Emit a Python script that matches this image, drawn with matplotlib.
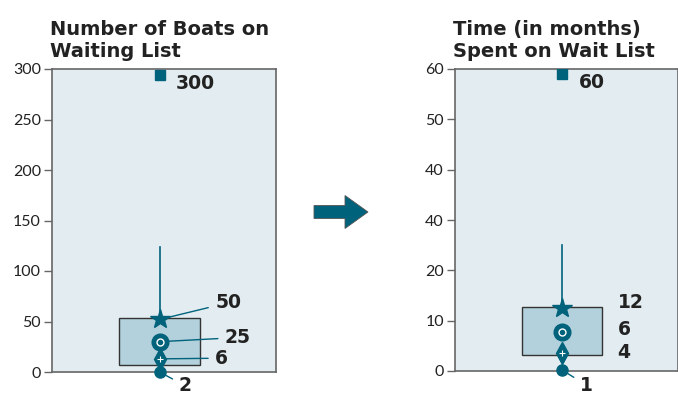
import matplotlib.pyplot as plt
from matplotlib.patches import FancyArrow, Rectangle

plt.rcParams['font.family'] = ['Lato', 'DejaVu Sans']
bold_font = ['DejaVu Sans']

# Left panel: number of boats on waiting list
boats_ticks = [0, 50, 100, 150, 200, 250, 300]
boats_q1, boats_q3 = 7, 53
boats_whisker_top = 124
boats_max, boats_p75, boats_mid, boats_p25, boats_min = 294, 52, 30, 13, 0
boats_labels = ['300', '50', '25', '6', '2']

# Right panel: months spent on wait list
months_ticks = [0, 10, 20, 30, 40, 50, 60]
months_tick_labels = ['0', '10', '20', '40', '40', '50', '60']
months_q1, months_q3 = 3.2, 12.7
months_whisker_top = 25
months_max, months_p75, months_mid, months_p25, months_min = 59, 12.5, 7.8, 3.6, 0.2
months_labels = ['60', '12', '6', '4', '1']

teal = '#00627b'
bg = '#e3edf1'
boxfill = '#b3d1dc'
spine_col = '#666666'

fig = plt.figure(figsize=(6.78, 3.96), dpi=100)


def panel(rect, title, ticks, ylim, q1, q3, wtop, vals, labels, leaders, offsets,
          tick_labels=None):
    ax = fig.add_axes(rect)
    ax.set_facecolor(bg)
    ax.set_xlim(0, 1)
    ax.set_ylim(*ylim)
    ax.set_xticks([])
    ax.set_yticks(ticks)
    ax.set_yticklabels(tick_labels if tick_labels is not None else [str(t) for t in ticks],
                       family='Lato')
    ax.tick_params(axis='y', length=6, width=1, color=spine_col, pad=2,
                   labelsize=11.5, labelcolor='#222222')
    for s in ax.spines.values():
        s.set_color(spine_col)
        s.set_linewidth(1.2)
    ax.text(-0.01, 1.025, title, transform=ax.transAxes, ha='left', va='bottom',
            fontsize=14, fontweight='bold', family=bold_font, color='#222222',
            linespacing=1.2)

    xc = 0.48
    vmax, v75, vmid, v25, vmin = vals
    # box and whisker
    ax.add_patch(Rectangle((xc - 0.18, q1), 0.36, q3 - q1, facecolor=boxfill,
                           edgecolor='#333333', linewidth=1.0, zorder=2))
    ax.plot([xc, xc], [v75, wtop], color=teal, lw=1.2, zorder=3)

    ax.plot(xc, vmax, marker='s', ms=7, color=teal, zorder=4)
    ax.plot(xc, v75, marker='*', ms=15, color=teal, zorder=4)
    ax.plot(xc, vmid, marker='o', ms=12, color=teal, zorder=4)
    ax.plot(xc, vmid, marker='o', ms=5, mfc='none', mec='white', mew=1, zorder=5)
    ax.plot(xc, v25, marker='d', ms=11, color=teal, zorder=4)
    ax.plot(xc, v25, marker='+', ms=4, mec='white', mew=0.8, zorder=5)
    ax.plot(xc, vmin, marker='o', ms=8, color=teal, zorder=4, clip_on=False)

    for v, lab, off, lead in zip(vals, labels, offsets, leaders):
        kw = {}
        if lead:
            kw['arrowprops'] = dict(arrowstyle='-', color=teal, lw=1.0,
                                    shrinkA=3, shrinkB=5)
        ax.annotate(lab, xy=(xc, v), xytext=off, textcoords='offset points',
                    ha='left', va='center', fontsize=13.5, fontweight='bold',
                    family=bold_font, color='#222222', annotation_clip=False, **kw)
    return ax


panel([52 / 678, 24 / 396, 224 / 678, 303 / 396],
      'Number of Boats on\nWaiting List', boats_ticks, (0, 300),
      boats_q1, boats_q3, boats_whisker_top,
      [boats_max, boats_p75, boats_mid, boats_p25, boats_min], boats_labels,
      [False, True, True, True, True],
      [(12, -6), (40, 12), (47, 3), (40, 0.5), (14, -10)])

panel([455 / 678, 25 / 396, 223 / 678, 302 / 396],
      'Time (in months)\nSpent on Wait List', months_ticks, (0, 60),
      months_q1, months_q3, months_whisker_top,
      [months_max, months_p75, months_mid, months_p25, months_min], months_labels,
      [False, False, False, False, True],
      [(12, -6), (40, 4), (40, 1.5), (40, 0.5), (13, -11)],
      months_tick_labels)

# arrow between panels
axa = fig.add_axes([0, 0, 1, 1], facecolor='none')
axa.set_xlim(0, 678)
axa.set_ylim(396, 0)
axa.axis('off')
axa.add_patch(FancyArrow(314, 212, 54, 0, width=13, head_width=33, head_length=23,
                         length_includes_head=True, facecolor=teal,
                         edgecolor='#555555', linewidth=0.6))

fig.savefig('out.png', dpi=100)
